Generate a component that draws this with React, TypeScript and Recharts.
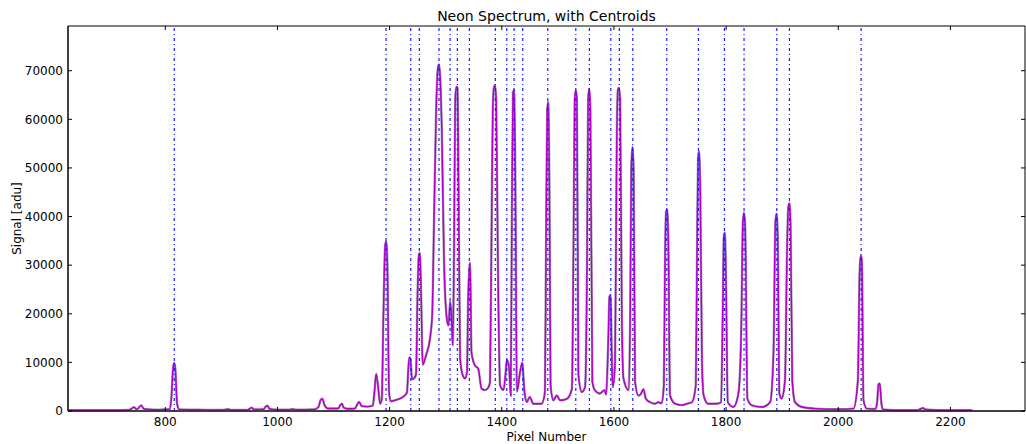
import { ComposedChart, Line, XAxis, YAxis, ReferenceLine, ReferenceArea } from "recharts";

// Spectrum: pixel number and signal in adu
const pixelNumbers = [
  626, 700, 735, 740, 744, 749, 752, 757, 762, 780, 800, 808, 811, 814, 816, 818, 821, 825, 860, 900,
  912, 918, 945, 951, 954, 958, 975, 979, 982, 986, 1000, 1020, 1027, 1033, 1065, 1073, 1077, 1080, 1084, 1090,
  1108, 1112, 1115, 1118, 1125, 1138, 1142, 1146, 1150, 1160, 1170, 1173, 1176, 1179, 1183, 1186, 1189, 1192, 1194, 1196,
  1199, 1202, 1212, 1225, 1231, 1233, 1235, 1237, 1240, 1244, 1247, 1250, 1252, 1254, 1256, 1259, 1265, 1272, 1276, 1279,
  1283, 1286, 1288, 1290, 1293, 1297, 1302, 1305, 1308, 1310, 1312.6, 1315, 1317, 1319, 1321, 1323, 1325.6, 1330, 1334.5, 1338,
  1340, 1343.5, 1346, 1352, 1358, 1364, 1370, 1376, 1379, 1382, 1384, 1386, 1388, 1390, 1393, 1397, 1403, 1407, 1409, 1413,
  1416, 1418, 1420, 1422, 1424, 1427, 1432.6, 1436.7, 1440, 1444.6, 1450, 1456, 1471, 1477, 1479, 1481, 1483, 1485, 1487, 1492,
  1498, 1504, 1516, 1525, 1528, 1530, 1532, 1534, 1536.6, 1542.6, 1548.5, 1552, 1554, 1556, 1558, 1561.5, 1566, 1575, 1583, 1586,
  1590, 1592, 1594, 1596, 1598, 1602, 1605, 1607, 1609, 1611, 1614, 1617, 1626, 1629, 1631, 1633, 1635, 1637.7, 1643.6, 1648,
  1652.5, 1657, 1664, 1673, 1679, 1685, 1689, 1691, 1693, 1695, 1697, 1700, 1709, 1721, 1730, 1739, 1746, 1748, 1750, 1752,
  1754, 1757, 1760, 1768, 1783, 1791, 1794, 1796, 1798, 1800, 1803, 1813, 1822, 1827, 1830, 1832, 1834, 1838, 1846, 1864,
  1878.5, 1884.5, 1888, 1890, 1892, 1895, 1899, 1905, 1909, 1911, 1913, 1915, 1918, 1923, 1935, 1959, 2000, 2027, 2035, 2038,
  2040, 2042, 2045, 2051, 2066, 2069, 2072, 2074, 2077, 2080, 2100, 2140, 2148, 2151, 2155, 2180, 2239,
];
const signals = [
  150, 150, 200, 500, 800, 350, 600, 1150, 400, 250, 300, 350, 3000, 9000, 9900, 8500, 1500, 300, 250, 200,
  350, 200, 200, 500, 700, 300, 350, 900, 1100, 400, 250, 250, 350, 250, 300, 800, 2300, 2550, 1200, 500,
  500, 1200, 1500, 700, 450, 500, 1300, 1850, 1000, 900, 1100, 4000, 7600, 5500, 1500, 2500, 20000, 34000, 34900, 30000,
  4000, 2000, 2300, 3000, 3800, 8000, 11000, 10800, 6500, 6800, 7500, 25000, 32000, 32500, 25000, 9500, 11500, 14900, 20000, 38000,
  62000, 70500, 71300, 69000, 58000, 31000, 19000, 17600, 22500, 20000, 13500, 35000, 64000, 66700, 66500, 45000, 11000, 7500, 6700, 8000,
  23000, 30500, 12000, 9400, 8700, 4600, 4300, 4800, 6000, 40000, 62000, 66500, 67000, 64000, 31000, 5300, 4300, 8000, 10500, 9000,
  3200, 40000, 65500, 66000, 50000, 4000, 8000, 10000, 4500, 1850, 2900, 1500, 1500, 3900, 35000, 62000, 63600, 45000, 5300, 2200,
  3200, 2200, 2500, 4500, 35000, 64000, 66000, 64000, 7500, 3900, 4900, 30000, 64000, 66300, 62000, 6000, 4300, 3600, 4300, 3400,
  15000, 23500, 23800, 12000, 4900, 10000, 55000, 66000, 66500, 64000, 20000, 6700, 4300, 20000, 50000, 54300, 50000, 6000, 3200, 3500,
  4500, 2500, 1850, 1500, 1800, 1600, 5300, 30000, 41000, 41400, 35000, 3200, 1500, 1200, 1500, 1800, 5300, 30000, 52000, 53400,
  45000, 10000, 3200, 1500, 1500, 1800, 20000, 36000, 36700, 25000, 1800, 830, 3600, 16600, 39000, 40800, 38000, 2550, 1170, 830,
  1800, 11900, 39000, 40600, 36000, 3600, 2550, 6300, 35000, 42000, 42700, 38000, 6300, 1800, 830, 490, 350, 490, 6300, 28000,
  32000, 31000, 2200, 490, 400, 1500, 5500, 5650, 1500, 300, 150, 150, 500, 620, 300, 150, 150,
];

const centroids = [
  816, 1193.6, 1237.7, 1253, 1288, 1307.8, 1320.8, 1342.2, 1388.5, 1408.9, 1421.9, 1437.4, 1482,
  1532, 1556.2, 1594.4, 1609.7, 1633.6, 1694.2, 1750.6, 1797, 1832, 1890.4, 1912.9, 2040.8,
];

const xTicks = [800, 1000, 1200, 1400, 1600, 1800, 2000, 2200];
const yTicks = [0, 10000, 20000, 30000, 40000, 50000, 60000, 70000];

const X_DOMAIN: [number, number] = [626.5, 2333];
const Y_DOMAIN: [number, number] = [0, 79200];

const data = pixelNumbers.map((x, i) => ({ x, y: signals[i] }));

const FONT = "'DejaVu Sans', sans-serif";
const tickStyle = { fill: "#000", fontSize: 12, fontFamily: FONT };

// inward tick length on the top / right spines, in data units (~4px)
const xTickLen = (X_DOMAIN[1] - X_DOMAIN[0]) * (4 / 957);
const yTickLen = (Y_DOMAIN[1] - Y_DOMAIN[0]) * (4 / 385);

export default function App() {
  return (
    <div style={{ position: "absolute", left: 0, top: 0, width: 1026, height: 444, background: "#fff" }}>
      <ComposedChart width={1026} height={444} data={data} margin={{ top: 26, right: 1, left: 8, bottom: 0 }}>
        <XAxis
          type="number"
          dataKey="x"
          domain={X_DOMAIN}
          allowDataOverflow
          ticks={xTicks}
          height={33}
          tickSize={-4}
          tickMargin={10}
          tick={tickStyle}
          axisLine={{ stroke: "#000", strokeWidth: 1 }}
          tickLine={{ stroke: "#000" }}
        />
        <YAxis
          type="number"
          domain={Y_DOMAIN}
          allowDataOverflow
          ticks={yTicks}
          width={60}
          tickSize={-4}
          tickMargin={9}
          tick={tickStyle}
          axisLine={{ stroke: "#000", strokeWidth: 1 }}
          tickLine={{ stroke: "#000" }}
        />
        <Line
          type="monotone"
          dataKey="y"
          stroke="#a394ae"
          strokeWidth={2.4}
          dot={false}
          isAnimationActive={false}
        />
        <Line
          type="monotone"
          dataKey="y"
          stroke="#b400c4"
          strokeWidth={1.4}
          dot={false}
          isAnimationActive={false}
        />
        {centroids.map((c) => (
          <ReferenceLine
            key={c}
            x={c}
            stroke="#1a1aff"
            strokeWidth={1.2}
            strokeDasharray="3 3 1 3"
          />
        ))}
        <ReferenceArea
          x1={X_DOMAIN[0]}
          x2={X_DOMAIN[1]}
          y1={Y_DOMAIN[0]}
          y2={Y_DOMAIN[1]}
          fill="none"
          fillOpacity={0}
          stroke="#000"
          strokeWidth={1}
          ifOverflow="visible"
        />
        {xTicks.map((t) => (
          <ReferenceLine
            key={"tt" + t}
            segment={[{ x: t, y: Y_DOMAIN[1] }, { x: t, y: Y_DOMAIN[1] - yTickLen }]}
            stroke="#000"
          />
        ))}
        {yTicks.map((t) => (
          <ReferenceLine
            key={"rt" + t}
            segment={[{ x: X_DOMAIN[1], y: t }, { x: X_DOMAIN[1] - xTickLen, y: t }]}
            stroke="#000"
          />
        ))}
      </ComposedChart>
      <svg
        width={1026}
        height={444}
        style={{ position: "absolute", left: 0, top: 0, pointerEvents: "none" }}
      >
        <text x={546.5} y={21} textAnchor="middle" fontSize={14} fontFamily={FONT} fill="#000">
          Neon Spectrum, with Centroids
        </text>
        <text x={546.5} y={441} textAnchor="middle" fontSize={12} fontFamily={FONT} fill="#000">
          Pixel Number
        </text>
        <text
          x={21}
          y={218.5}
          textAnchor="middle"
          fontSize={12}
          fontFamily={FONT}
          fill="#000"
          transform="rotate(-90 21 218.5)"
        >
          Signal [adu]
        </text>
      </svg>
    </div>
  );
}
